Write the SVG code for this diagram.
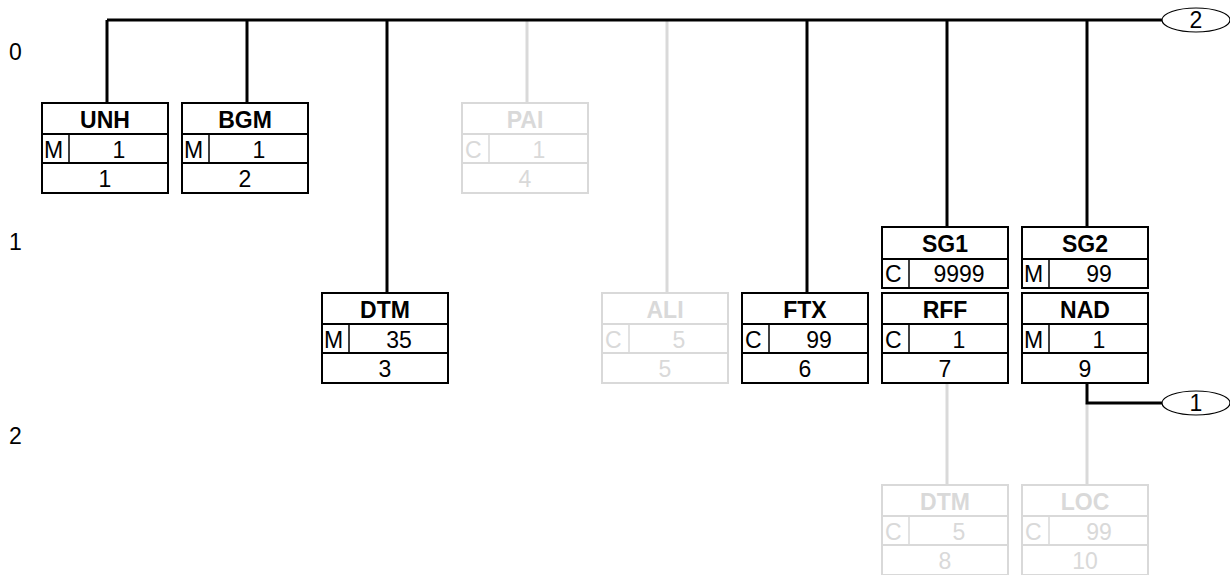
<svg xmlns="http://www.w3.org/2000/svg" width="1230" height="575" viewBox="0 0 1230 575">
<style>
text{font-family:"Liberation Sans",Arial,sans-serif;font-size:23px;fill:currentColor}
.h{font-weight:bold;text-anchor:middle}
.c{text-anchor:middle}
.box{color:#000}
.g{color:#d9d9d9}
.k{stroke:#000;stroke-width:3;fill:none}
.kg{stroke:#d9d9d9;stroke-width:3;fill:none}
.ov{fill:#fff;stroke:#000;stroke-width:1.2}
</style>
<defs>
<g id="seg" fill="none" stroke="currentColor" stroke-width="2">
<rect x="0" y="0" width="126" height="90"/>
<line x1="0" y1="31" x2="126" y2="31"/>
<line x1="0" y1="60" x2="126" y2="60"/>
<line x1="27" y1="31" x2="27" y2="60" stroke-width="1.5"/>
</g>
<g id="grp" fill="none" stroke="currentColor" stroke-width="2">
<rect x="0" y="0" width="126" height="61"/>
<line x1="0" y1="32" x2="126" y2="32"/>
<line x1="27" y1="32" x2="27" y2="61" stroke-width="1.5"/>
</g>
</defs>
<text x="9" y="60">0</text>
<text x="9" y="250">1</text>
<text x="9" y="444">2</text>
<g id="connectors">
<path class="kg" d="M527 20V103M667 20V293M947 383V485M1087 403V485"/>
<path class="k" d="M107 20H1162M107 20V103M247 20V103M387 20V293M807 20V293M947 20V227M1087 20V227M1087 383V403H1162"/>
<ellipse class="ov" cx="1196" cy="20" rx="34" ry="12"/>
<text class="c" x="1196" y="28">2</text>
<ellipse class="ov" cx="1196" cy="403" rx="34" ry="12"/>
<text class="c" x="1196" y="411">1</text>
</g>
<g id="UNH" class="box" transform="translate(42,103)"><use href="#seg"/><text class="h" x="63" y="25">UNH</text><text x="2" y="55">M</text><text class="c" x="77" y="55">1</text><text class="c" x="63" y="84">1</text></g>
<g id="BGM" class="box" transform="translate(182,103)"><use href="#seg"/><text class="h" x="63" y="25">BGM</text><text x="2" y="55">M</text><text class="c" x="77" y="55">1</text><text class="c" x="63" y="84">2</text></g>
<g id="PAI" class="box g" transform="translate(462,103)"><use href="#seg"/><text class="h" x="63" y="25">PAI</text><text x="3" y="55">C</text><text class="c" x="77" y="55">1</text><text class="c" x="63" y="84">4</text></g>
<g id="DTM" class="box" transform="translate(322,293)"><use href="#seg"/><text class="h" x="63" y="25">DTM</text><text x="2" y="55">M</text><text class="c" x="77" y="55">35</text><text class="c" x="63" y="84">3</text></g>
<g id="ALI" class="box g" transform="translate(602,293)"><use href="#seg"/><text class="h" x="63" y="25">ALI</text><text x="3" y="55">C</text><text class="c" x="77" y="55">5</text><text class="c" x="63" y="84">5</text></g>
<g id="FTX" class="box" transform="translate(742,293)"><use href="#seg"/><text class="h" x="63" y="25">FTX</text><text x="3" y="55">C</text><text class="c" x="77" y="55">99</text><text class="c" x="63" y="84">6</text></g>
<g id="SG1" class="box" transform="translate(882,227)"><use href="#grp"/><text class="h" x="63" y="25">SG1</text><text x="3" y="55">C</text><text class="c" x="77" y="55">9999</text></g>
<g id="RFF" class="box" transform="translate(882,293)"><use href="#seg"/><text class="h" x="63" y="25">RFF</text><text x="3" y="55">C</text><text class="c" x="77" y="55">1</text><text class="c" x="63" y="84">7</text></g>
<g id="SG2" class="box" transform="translate(1022,227)"><use href="#grp"/><text class="h" x="63" y="25">SG2</text><text x="2" y="55">M</text><text class="c" x="77" y="55">99</text></g>
<g id="NAD" class="box" transform="translate(1022,293)"><use href="#seg"/><text class="h" x="63" y="25">NAD</text><text x="2" y="55">M</text><text class="c" x="77" y="55">1</text><text class="c" x="63" y="84">9</text></g>
<g id="DTM2" class="box g" transform="translate(882,485)"><use href="#seg"/><text class="h" x="63" y="25">DTM</text><text x="3" y="55">C</text><text class="c" x="77" y="55">5</text><text class="c" x="63" y="84">8</text></g>
<g id="LOC" class="box g" transform="translate(1022,485)"><use href="#seg"/><text class="h" x="63" y="25">LOC</text><text x="3" y="55">C</text><text class="c" x="77" y="55">99</text><text class="c" x="63" y="84">10</text></g>
</svg>
